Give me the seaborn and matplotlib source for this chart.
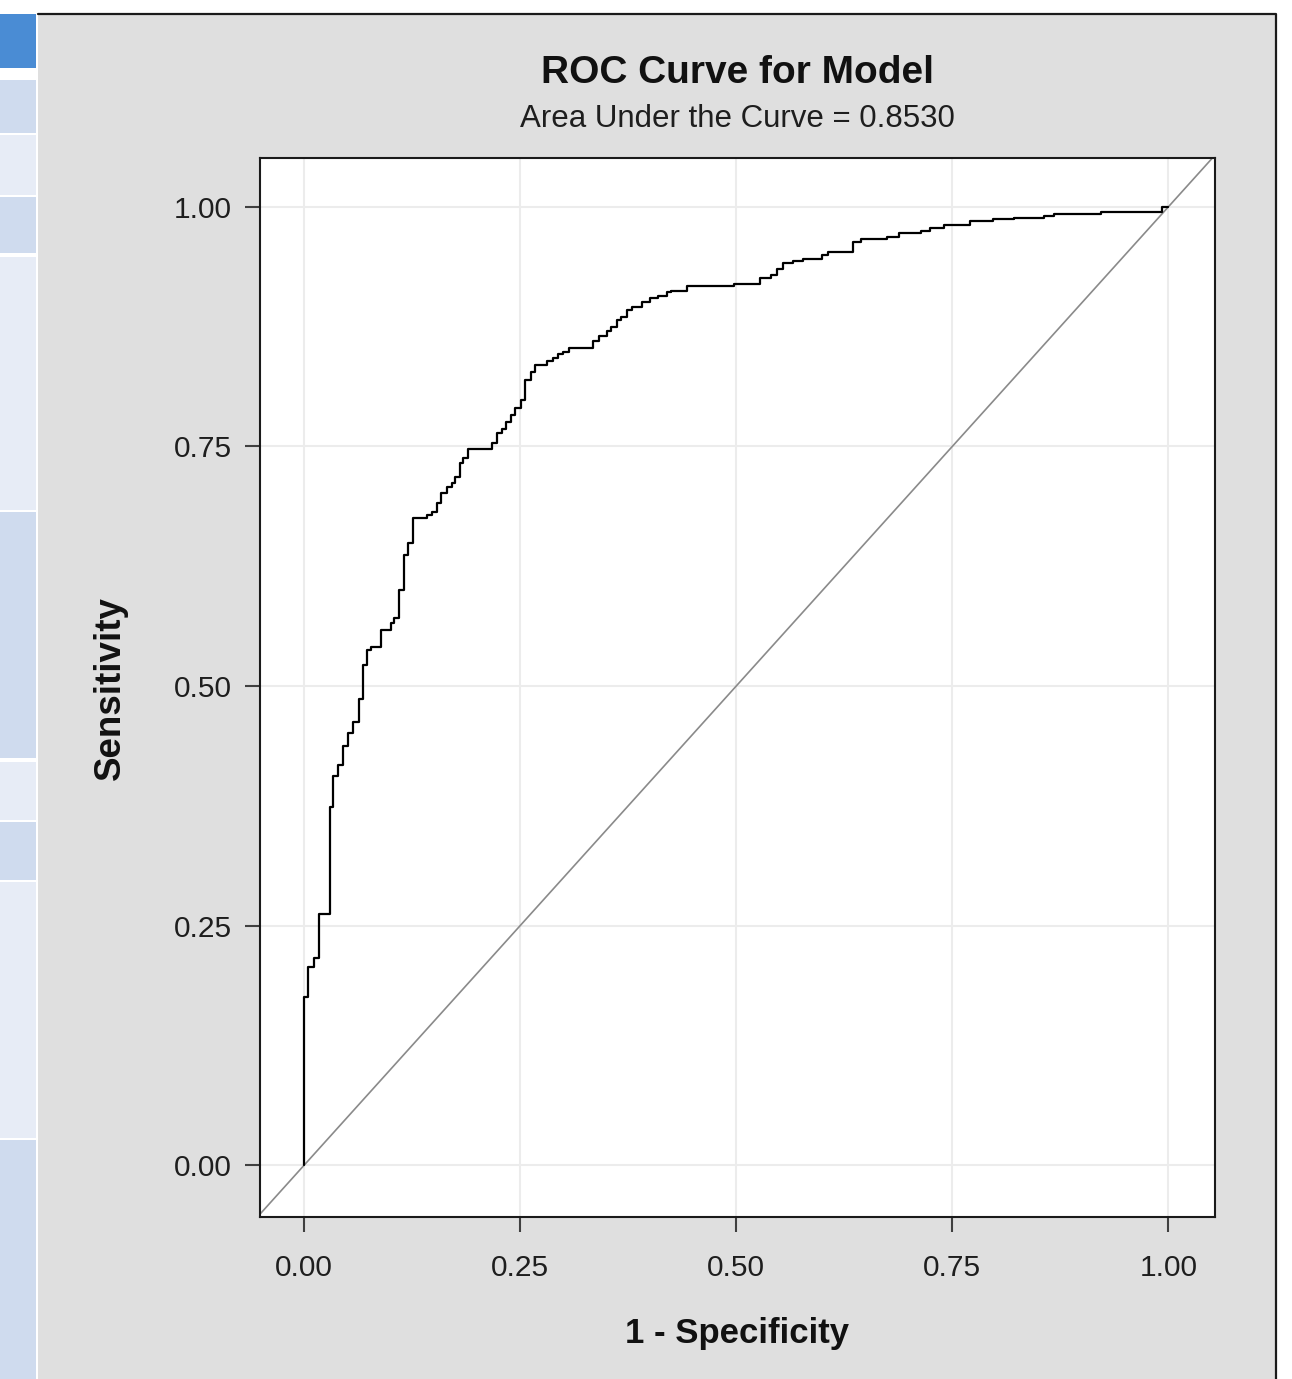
"""
ROC curve for a fitted model, drawn in the style of a SAS results viewer.
"""

import matplotlib
matplotlib.use("Agg")

import numpy as np
import pandas as pd
import matplotlib.pyplot as plt
import seaborn as sns
from matplotlib.patches import Rectangle
from matplotlib.lines import Line2D

# ─────────────────────────────────────────────
# Data
# ─────────────────────────────────────────────
fpr = [
    0.000, 0.000, 0.005, 0.011, 0.017, 0.030, 0.034, 0.039, 0.045, 0.051,
    0.057, 0.063, 0.068, 0.073, 0.078, 0.089, 0.100, 0.104, 0.110, 0.116,
    0.120, 0.126, 0.142, 0.148, 0.154, 0.158, 0.165, 0.171, 0.175, 0.180,
    0.184, 0.190, 0.217, 0.223, 0.229, 0.234, 0.239, 0.244, 0.251, 0.256,
    0.262, 0.267, 0.281, 0.288, 0.294, 0.300, 0.306, 0.334, 0.341, 0.351,
    0.355, 0.362, 0.367, 0.374, 0.379, 0.391, 0.400, 0.410, 0.420, 0.424,
    0.443, 0.497, 0.527, 0.540, 0.547, 0.554, 0.566, 0.577, 0.599, 0.606,
    0.635, 0.644, 0.660, 0.674, 0.688, 0.714, 0.724, 0.740, 0.771, 0.797,
    0.821, 0.856, 0.868, 0.922, 0.993, 1.000,
]
tpr = [
    0.000, 0.176, 0.207, 0.216, 0.262, 0.374, 0.406, 0.418, 0.437, 0.451,
    0.463, 0.486, 0.522, 0.538, 0.541, 0.558, 0.566, 0.571, 0.600, 0.637,
    0.649, 0.675, 0.679, 0.682, 0.691, 0.701, 0.708, 0.712, 0.718, 0.733,
    0.738, 0.747, 0.754, 0.764, 0.768, 0.776, 0.783, 0.790, 0.799, 0.819,
    0.828, 0.835, 0.839, 0.842, 0.846, 0.849, 0.853, 0.860, 0.865, 0.870,
    0.875, 0.882, 0.885, 0.892, 0.896, 0.901, 0.905, 0.907, 0.911, 0.912,
    0.917, 0.920, 0.926, 0.929, 0.935, 0.941, 0.944, 0.946, 0.950, 0.953,
    0.963, 0.966, 0.967, 0.969, 0.973, 0.975, 0.978, 0.981, 0.985, 0.987,
    0.988, 0.990, 0.993, 0.995, 1.000, 1.000,
]
tick_values = [0.00, 0.25, 0.50, 0.75, 1.00]
tick_labels = ["0.00", "0.25", "0.50", "0.75", "1.00"]
auc_value = 0.8530

title_text = "ROC Curve for Model"
subtitle_text = f"Area Under the Curve = {auc_value:.4f}"
x_label = "1 - Specificity"
y_label = "Sensitivity"

# ─────────────────────────────────────────────
# Layout (pixels of the 1292 x 1379 canvas)
# ─────────────────────────────────────────────
W, H = 1292, 1379
PANEL_GRAY = "#dfdfdf"
SIDEBAR = [  # (top, bottom, colour) of the viewer's side strip
    (14, 68, "#4a8cd4"),
    (80, 133, "#cfdbee"),
    (135, 195, "#e7ecf6"),
    (197, 253, "#cfdbee"),
    (257, 510, "#e7ecf6"),
    (512, 758, "#cfdbee"),
    (762, 820, "#e7ecf6"),
    (822, 880, "#cfdbee"),
    (882, 1138, "#e7ecf6"),
    (1140, 1379, "#cfdbee"),
]


def fig_rect(fig, x0, y0, x1, y1, color):
    """Add a filled rectangle given in top-left pixel coordinates."""
    fig.patches.append(Rectangle(
        (x0 / W, 1 - y1 / H), (x1 - x0) / W, (y1 - y0) / H,
        transform=fig.transFigure, facecolor=color, edgecolor="none", zorder=-10,
    ))


def fig_line(fig, xs, ys):
    fig.lines.append(Line2D(
        [x / W for x in xs], [1 - y / H for y in ys],
        transform=fig.transFigure, color="#1a1a1a", lw=1.6, zorder=-5,
    ))


sns.set_theme(style="white")
plt.rcParams["font.family"] = ["Liberation Sans", "DejaVu Sans"]

fig = plt.figure(figsize=(W / 100, H / 100), dpi=100)
fig.patch.set_facecolor("white")

# viewer chrome
for top, bottom, color in SIDEBAR:
    fig_rect(fig, 0, top, 36, bottom, color)
fig_rect(fig, 38, 14, 1276, H, PANEL_GRAY)
fig_line(fig, [38, 1276, 1276], [14, 14, H])

ax = fig.add_axes([260 / W, 1 - 1217 / H, 955 / W, 1059 / H])
ax.set_facecolor("white")

roc = pd.DataFrame({"fpr": fpr, "tpr": tpr})
ax.axline((0, 0), slope=1, color="#8a8a8a", lw=1.2, zorder=2)
sns.lineplot(
    data=roc, x="fpr", y="tpr", estimator=None, sort=False,
    drawstyle="steps-post", color="black", lw=1.6, ax=ax, zorder=3,
)

ax.set_xlim(-0.051, 1.054)
ax.set_ylim(-0.054, 1.051)
ax.set_xticks(tick_values, tick_labels)
ax.set_yticks(tick_values, tick_labels)
ax.grid(True, color="#ececec", lw=1.5)
ax.set_axisbelow(True)

ax.tick_params(axis="both", direction="out", length=11, width=1.5,
               color="#404040", labelsize=21.5, labelcolor="#1e1e1e",
               left=True, bottom=True)
ax.tick_params(axis="x", pad=16)
ax.tick_params(axis="y", pad=9)
for spine in ax.spines.values():
    spine.set_color("#1a1a1a")
    spine.set_linewidth(1.5)

ax.set_xlabel(x_label, fontsize=25, fontweight="bold", color="#111111")
ax.set_ylabel(y_label, fontsize=26.5, fontweight="bold", color="#111111")
ax.xaxis.set_label_coords(0.5, -0.094)
ax.yaxis.set_label_coords(-0.138, 0.5)

cx = (260 + 1215) / 2 / W
fig.text(cx, 1 - 83 / H, title_text, ha="center", va="baseline",
         fontsize=28, fontweight="bold", color="#111111")
fig.text(cx, 1 - 127 / H, subtitle_text, ha="center", va="baseline",
         fontsize=22.5, color="#1e1e1e")

fig.savefig("out.png", dpi=100)
plt.close(fig)
